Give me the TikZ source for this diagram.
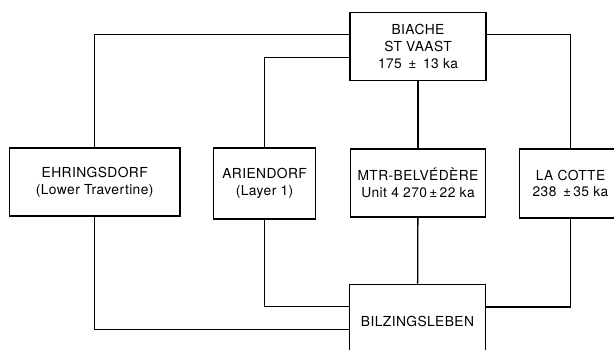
\documentclass[tikz,border=0pt]{standalone}
\usepackage{fontspec}
\setmainfont[LetterSpace=3]{TeX Gyre Heros}
\begin{document}
\begin{tikzpicture}[x=1pt,y=-1pt,
  box/.style={draw, line width=1.3pt, align=center, inner sep=0pt,
    font=\fontsize{13.8}{16.8}\selectfont},
  link/.style={line width=1.3pt}]
\clip (0,0) rectangle (614,349);
\fill[white] (0,0) rectangle (614,349);
\node[box, minimum width=136pt, minimum height=68pt] (biache) at (418,46.6) {BIACHE\\ST VAAST\\175 \,±\, 13 ka};
\node[box, minimum width=170.7pt, minimum height=68pt] (ehr) at (94.7,182) {EHRINGSDORF\\(Lower Travertine)};
\node[box, minimum width=102pt, minimum height=71pt] (ari) at (264.6,183.5) {ARIENDORF\\(Layer 1)};
\node[box, minimum width=135.5pt, minimum height=68pt] (mtr) at (418,183) {MTR-BELVÉDÈRE\\Unit 4 270\,±\,22 ka};
\node[box, minimum width=102pt, minimum height=69pt] (lac) at (570.5,183.5) {LA COTTE\\238 \,±\,35 ka};
\node[box, minimum width=136pt, minimum height=75pt] (bil) at (417.5,321.7) {BILZINGSLEBEN};
\draw[link] (biache.west |- 0,34.3) -| (ehr.north);
\draw[link] (biache.west |- 0,57.3) -| (ari.north);
\draw[link] (biache.east |- 0,34.5) -| (lac.north);
\draw[link] (biache) -- (mtr);
\draw[link] (ehr.south) |- (bil.west |- 0,329.3);
\draw[link] (ari.south) |- (bil.west |- 0,306.5);
\draw[link] (lac.south) |- (bil.east |- 0,307);
\draw[link] (mtr) -- (bil);
\end{tikzpicture}
\end{document}
